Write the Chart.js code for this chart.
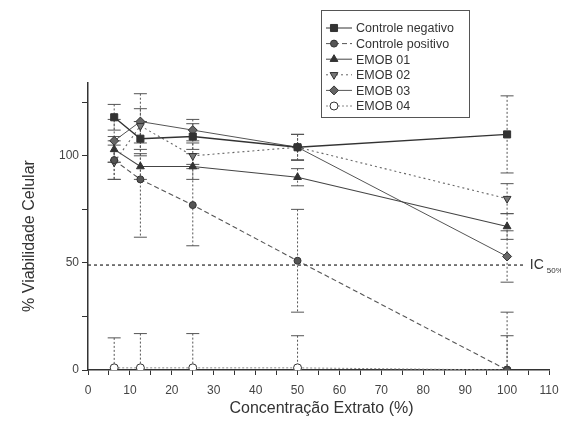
<!DOCTYPE html>
<html>
<head>
<meta charset="utf-8">
<script src="https://cdn.jsdelivr.net/npm/chart.js@4/dist/chart.umd.min.js"></script>
<style>
  body { margin: 0; background: #fff; }
  canvas { display: block; }
</style>
</head>
<body>
<canvas id="grafico" width="561" height="423"></canvas>
<script>
// concentracoes do extrato (%)
var concentracoes = [6.25, 12.5, 25, 50, 100];

// % viabilidade celular
var controleNegativo = [118, 108, 109, 104, 110];
var controlePositivo = [98, 89, 77, 51, 0];
var emob01 = [103, 95, 95, 90, 67];
var emob02 = [97, 114, 100, 104, 80];
var emob03 = [107, 116, 112, 104, 53];
var emob04 = [1, 1, 1, 1, 0];

// desvios (barras de erro)
var errNegativo = [6, 8, 6, 6, 18];
var errPositivo = [9, 27, 19, 24, 27];
var errEmob01 = [6, 6, 6, 4, 6];
var errEmob02 = [8, 8, 6, 6, 7];
var errEmob03 = [10, 13, 5, 6, 12];
var errEmob04 = [14, 16, 16, 15, 16];

var ic50 = 49;

var xTicks = [0, 10, 20, 30, 40, 50, 60, 70, 80, 90, 100, 110];
var yTicks = [0, 50, 100];

function pontos(vals) {
  return vals.map(function (v, i) { return { x: concentracoes[i], y: v }; });
}

function serie(label, vals, errs, estilo, raio, fill, dash, largura, cor, rot) {
  return {
    label: label,
    data: pontos(vals),
    erros: errs,
    borderColor: cor,
    borderWidth: largura,
    borderDash: dash,
    pointStyle: estilo,
    pointRotation: rot || 0,
    pointRadius: raio,
    pointBackgroundColor: fill,
    pointBorderColor: '#333',
    pointBorderWidth: 1,
    tension: 0,
    fill: false
  };
}

var datasets = [
  serie('Controle negativo', controleNegativo, errNegativo, 'rect', 5, '#333', [], 1.4, '#333'),
  serie('Controle positivo', controlePositivo, errPositivo, 'circle', 3.5, '#555', [5, 3], 1.1, '#555'),
  serie('EMOB 01', emob01, errEmob01, 'triangle', 4.5, '#333', [], 1.1, '#444'),
  serie('EMOB 02', emob02, errEmob02, 'triangle', 4.5, '#777', [2, 3], 1.1, '#666', 180),
  serie('EMOB 03', emob03, errEmob03, 'rectRot', 4.5, '#666', [], 1.0, '#555'),
  serie('EMOB 04', emob04, errEmob04, 'circle', 4, '#fff', [2, 2], 1.0, '#888')
];

var extras = {
  id: 'extras',
  beforeDatasetsDraw: function (chart) {
    var ctx = chart.ctx, xs = chart.scales.x, ys = chart.scales.y, area = chart.chartArea;
    ctx.save();
    // linha IC50
    ctx.strokeStyle = '#333';
    ctx.lineWidth = 1.3;
    ctx.setLineDash([3, 3]);
    ctx.beginPath();
    ctx.moveTo(xs.getPixelForValue(0), ys.getPixelForValue(ic50));
    ctx.lineTo(xs.getPixelForValue(104), ys.getPixelForValue(ic50));
    ctx.stroke();
    // barras de erro
    ctx.beginPath();
    ctx.rect(area.left, area.top - 20, area.right - area.left, area.bottom - area.top + 20);
    ctx.clip();
    chart.data.datasets.forEach(function (ds) {
      ds.data.forEach(function (p, i) {
        var e = ds.erros[i];
        var x = xs.getPixelForValue(p.x);
        var yt = ys.getPixelForValue(p.y + e);
        var yb = ys.getPixelForValue(Math.max(p.y - e, 0));
        ctx.strokeStyle = '#555';
        ctx.lineWidth = 1;
        ctx.setLineDash([2, 2]);
        ctx.beginPath();
        ctx.moveTo(x, yt);
        ctx.lineTo(x, yb);
        ctx.stroke();
        ctx.setLineDash([]);
        ctx.beginPath();
        ctx.moveTo(x - 6.5, yt);
        ctx.lineTo(x + 6.5, yt);
        if (p.y - e > 0) {
          ctx.moveTo(x - 6.5, yb);
          ctx.lineTo(x + 6.5, yb);
        }
        ctx.stroke();
      });
    });
    ctx.restore();
  },
  afterDraw: function (chart) {
    var ctx = chart.ctx, xs = chart.scales.x, ys = chart.scales.y;
    ctx.save();
    ctx.fillStyle = '#333';
    // rotulo IC50
    var yIc = ys.getPixelForValue(ic50);
    var xIc = xs.getPixelForValue(104) + 6;
    ctx.font = '14px "Liberation Sans", Arial, sans-serif';
    ctx.textBaseline = 'middle';
    ctx.textAlign = 'left';
    ctx.fillText('IC', xIc, yIc);
    ctx.font = '8px "Liberation Sans", Arial, sans-serif';
    ctx.fillText('50%', xIc + 17, yIc + 6);

    // titulos dos eixos
    ctx.font = '16px "Liberation Sans", Arial, sans-serif';
    ctx.textAlign = 'center';
    ctx.fillText('Concentração Extrato (%)', (chart.chartArea.left + chart.chartArea.right) / 2 + 3, 409);
    ctx.save();
    ctx.translate(30, 236);
    ctx.rotate(-Math.PI / 2);
    ctx.fillText('% Viabilidade Celular', 0, 0);
    ctx.restore();

    // legenda
    ctx.strokeStyle = '#555';
    ctx.lineWidth = 1;
    ctx.setLineDash([]);
    ctx.strokeRect(321.5, 10.5, 148, 107);
    ctx.font = '12.5px "Liberation Sans", Arial, sans-serif';
    ctx.textAlign = 'left';
    chart.data.datasets.forEach(function (ds, i) {
      var y = 28 + i * 15.6;
      ctx.strokeStyle = ds.borderColor;
      ctx.lineWidth = 1;
      ctx.setLineDash(ds.borderDash.length ? ds.borderDash : []);
      ctx.beginPath();
      ctx.moveTo(326, y);
      ctx.lineTo(352, y);
      ctx.stroke();
      ctx.setLineDash([]);
      ctx.fillStyle = ds.pointBackgroundColor;
      ctx.strokeStyle = '#333';
      Chart.helpers.drawPoint(ctx, {
        pointStyle: ds.pointStyle,
        rotation: ds.pointRotation,
        radius: ds.pointRadius,
        borderWidth: 1
      }, 334, y);
      ctx.fillStyle = '#333';
      ctx.fillText(ds.label, 356, y + 1);
    });
    ctx.restore();
  }
};

new Chart(document.getElementById('grafico'), {
  type: 'line',
  data: { datasets: datasets },
  plugins: [extras],
  options: {
    responsive: false,
    devicePixelRatio: 1,
    animation: false,
    layout: { padding: { top: 83, right: 12, left: 0, bottom: 0 } },
    plugins: { legend: { display: false }, tooltip: { enabled: false } },
    scales: {
      x: {
        type: 'linear',
        min: 0,
        max: 110,
        afterFit: function (s) { s.height = 53; s.paddingRight = 0; },
        afterBuildTicks: function (s) {
          var t = [];
          for (var v = 0; v <= 110; v += 5) t.push({ value: v });
          s.ticks = t;
        },
        border: { display: true, color: '#333', width: 1.5 },
        grid: { drawOnChartArea: false, drawTicks: true, tickLength: 5, color: '#333' },
        ticks: {
          padding: 8,
          color: '#444',
          font: { size: 12, family: '"Liberation Sans", Arial, sans-serif' },
          autoSkip: false,
          maxRotation: 0,
          callback: function (v) { return xTicks.indexOf(v) >= 0 ? String(v) : ''; }
        }
      },
      y: {
        min: 0,
        max: 134,
        afterFit: function (s) { s.width = 88; },
        afterBuildTicks: function (s) {
          s.ticks = [0, 25, 50, 75, 100, 125].map(function (v) { return { value: v }; });
        },
        border: { display: true, color: '#333', width: 1.5 },
        grid: { drawOnChartArea: false, drawTicks: true, tickLength: 6, color: '#333' },
        ticks: {
          padding: 3,
          color: '#444',
          font: { size: 12, family: '"Liberation Sans", Arial, sans-serif' },
          autoSkip: false,
          callback: function (v) { return yTicks.indexOf(v) >= 0 ? String(v) : ''; }
        }
      }
    }
  }
});
</script>
</body>
</html>
